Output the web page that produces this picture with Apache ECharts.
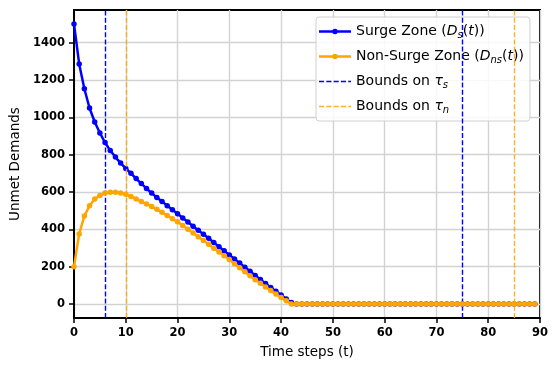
<!DOCTYPE html>
<html>
<head>
<meta charset="utf-8">
<script src="https://cdn.jsdelivr.net/npm/echarts@6/dist/echarts.min.js"></script>
<style>
  html, body { margin: 0; padding: 0; background: #fff; }
  #main { width: 558px; height: 370px; }
</style>
</head>
<body>
<div id="main"></div>
<script>
// unmet demands per time step, t = 0 .. 89
var surgeZone = [
  1500, 1286, 1153, 1050, 975, 916, 865, 822, 787, 755,
  726, 700, 672, 645, 619, 594, 571, 549, 527, 505,
  483, 461, 439, 417, 395, 374, 352, 329, 307, 285,
  263, 241, 219, 197, 175, 153, 131, 110, 89, 68,
  48, 27, 8, 0, 0, 0, 0, 0, 0, 0,
  0, 0, 0, 0, 0, 0, 0, 0, 0, 0,
  0, 0, 0, 0, 0, 0, 0, 0, 0, 0,
  0, 0, 0, 0, 0, 0, 0, 0, 0, 0,
  0, 0, 0, 0, 0, 0, 0, 0, 0, 0
];
var nonSurgeZone = [
  200, 375, 472, 526, 562, 581, 594, 599, 599, 594,
  588, 576, 563, 549, 536, 522, 507, 491, 474, 457,
  440, 420, 400, 380, 360, 340, 320, 299, 279, 258,
  238, 216, 194, 173, 151, 130, 111, 91, 72, 53,
  35, 17, 0, 0, 0, 0, 0, 0, 0, 0,
  0, 0, 0, 0, 0, 0, 0, 0, 0, 0,
  0, 0, 0, 0, 0, 0, 0, 0, 0, 0,
  0, 0, 0, 0, 0, 0, 0, 0, 0, 0,
  0, 0, 0, 0, 0, 0, 0, 0, 0, 0
];
var boundsS = [6, 75];
var boundsN = [10, 85];
var yTicks = [0, 200, 400, 600, 800, 1000, 1200, 1400];

var FONT = 'DejaVu Sans';
var BLUE = '#0000ff';
var ORANGE = '#ffa500';
var DASH = [5, 2.2];

// legend icons: line with a marker in the middle, and a dashed line
var ICON_MARK = 'path://M0,2.25h14v2.5H0z M18.75,3.5a2.75,2.75 0 1,1 -5.5,0a2.75,2.75 0 1,1 5.5,0z M18,2.25h14v2.5H18z';
var ICON_DASH = 'path://M0,0h5.1v1.4H0z M7.3,0h5.1v1.4H7.3z M14.6,0h5.1v1.4H14.6z M21.9,0h5.1v1.4H21.9z M29.2,0h2.8v1.4H29.2z';

function toPoints(arr) {
  return arr.map(function (v, i) { return [i, v]; });
}

function boundSeries(name, xs, color, opacity) {
  return {
    name: name,
    type: 'line',
    data: [],
    symbol: 'none',
    itemStyle: { color: color, opacity: opacity },
    lineStyle: { color: color, width: 1.4, type: DASH, opacity: opacity },
    markLine: {
      silent: true,
      symbol: 'none',
      label: { show: false },
      emphasis: { disabled: true },
      lineStyle: { color: color, width: 1.4, type: DASH, opacity: opacity },
      data: xs.map(function (x) { return { xAxis: x }; })
    },
    z: 3
  };
}

var chart = echarts.init(document.getElementById('main'));

var legendNames = {
  'surge': 'Surge Zone ({it|D}{sub|s}{n|(}{it|t}{n|))}',
  'nonsurge': 'Non-Surge Zone ({it|D}{sub|ns}{n|(}{it|t}{n|))}',
  'bs': 'Bounds on {it|τ}{sub|s}',
  'bn': 'Bounds on {it|τ}{sub|n}'
};

var option = {
  animation: false,
  textStyle: { fontFamily: FONT },
  grid: {
    left: 74, right: 18, top: 10, bottom: 52,
    show: true, borderColor: '#000', borderWidth: 2
  },
  legend: {
    left: 316, top: 17,
    orient: 'vertical',
    itemWidth: 32, itemHeight: 14, itemGap: 8,
    padding: [6, 6, 6, 3],
    backgroundColor: 'rgba(255,255,255,0.85)',
    borderColor: '#d0d0d0', borderWidth: 1, borderRadius: 3,
    itemStyle: { borderWidth: 0 },
    data: [
      { name: 'surge', icon: ICON_MARK },
      { name: 'nonsurge', icon: ICON_MARK },
      { name: 'bs', icon: ICON_DASH },
      { name: 'bn', icon: ICON_DASH }
    ],
    formatter: function (n) { return legendNames[n]; },
    textStyle: {
      fontFamily: FONT, fontSize: 14, color: '#000', lineHeight: 17,
      rich: {
        it: { fontFamily: FONT, fontStyle: 'italic', fontSize: 14, lineHeight: 17 },
        sub: { fontFamily: FONT, fontStyle: 'italic', fontSize: 10, lineHeight: 17, padding: [7, 0, 0, 0] },
        n: { fontFamily: FONT, fontSize: 14, lineHeight: 17 }
      }
    }
  },
  xAxis: {
    type: 'value',
    min: 0, max: 90, interval: 10,
    name: 'Time steps (t)',
    nameLocation: 'middle',
    nameGap: 27,
    nameTextStyle: { fontFamily: FONT, fontSize: 13.5, color: '#000' },
    axisLine: { onZero: false, lineStyle: { color: '#000', width: 2 } },
    axisTick: { length: 5, lineStyle: { color: '#000', width: 1.5 } },
    axisLabel: { fontFamily: FONT, fontSize: 11.5, fontWeight: 'bold', color: '#000', margin: 9 },
    splitLine: { show: true, lineStyle: { color: '#d2d2d2', width: 1.4 } }
  },
  yAxis: {
    type: 'value',
    min: -75, max: 1575,
    name: 'Unmet Demands',
    nameLocation: 'middle',
    nameGap: 50,
    nameTextStyle: { fontFamily: FONT, fontSize: 13.5, color: '#000' },
    axisLine: { onZero: false, lineStyle: { color: '#000', width: 2 } },
    axisTick: { length: 5, customValues: yTicks, lineStyle: { color: '#000', width: 1.5 } },
    axisLabel: {
      fontFamily: FONT, fontSize: 11.5, fontWeight: 'bold', color: '#000', margin: 9,
      customValues: yTicks,
      formatter: function (v) { return String(v); }
    },
    splitLine: { show: true, lineStyle: { color: '#d2d2d2', width: 1.4 } }
  },
  series: [
    {
      name: 'surge',
      type: 'line',
      data: toPoints(surgeZone),
      symbol: 'circle', symbolSize: 5.5,
      itemStyle: { color: BLUE },
      lineStyle: { color: BLUE, width: 2.5 },
      z: 4
    },
    {
      name: 'nonsurge',
      type: 'line',
      data: toPoints(nonSurgeZone),
      symbol: 'circle', symbolSize: 5.5,
      itemStyle: { color: ORANGE },
      lineStyle: { color: ORANGE, width: 2.5 },
      z: 5
    },
    boundSeries('bs', boundsS, BLUE, 1),
    boundSeries('bn', boundsN, ORANGE, 0.85)
  ]
};

chart.setOption(option);
</script>
</body>
</html>
